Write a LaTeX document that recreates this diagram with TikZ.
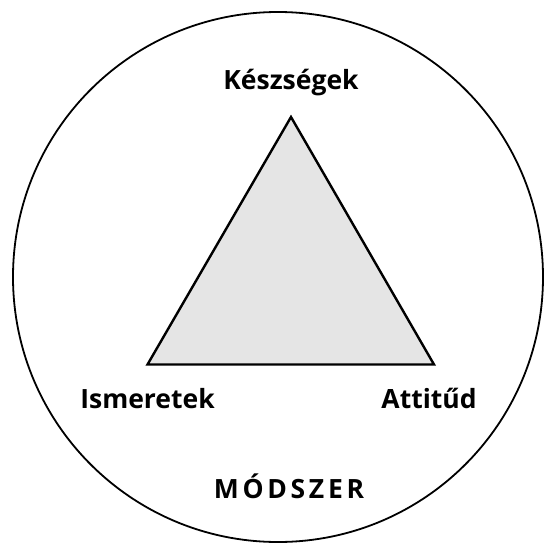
\documentclass[tikz,border=0pt]{standalone}
\usepackage{fontspec}
\setmainfont{Open Sans}
\newfontfamily\spaced[LetterSpace=14]{Open Sans}
\tikzset{
  corner/.style={font=\bfseries\fontsize{26.5}{30}\selectfont},
}
\begin{document}
\begin{tikzpicture}[x=1pt,y=-1pt]
      \useasboundingbox (0,0) rectangle (544,544);
      \draw[line width=1.8pt] (278,277) circle (265);
      \coordinate (top) at (291,117);
      \coordinate (left) at (147.5,364.5);
      \coordinate (right) at (434,364.5);
      \draw[line width=2.4pt,line join=miter,fill=gray!20] (top) -- (left) -- (right) -- cycle;
      \node[corner] (kesz) at (291,83) {Készségek};
      \node[corner] (ism) at (147.5,398.5) {Ismeretek};
      \node[corner] (att) at (429,398.5) {Attitűd};
      \node[corner,font=\spaced\bfseries\fontsize{26.5}{30}\selectfont] (mod) at (289,486) {MÓDSZER};
    \end{tikzpicture}
\end{document}
